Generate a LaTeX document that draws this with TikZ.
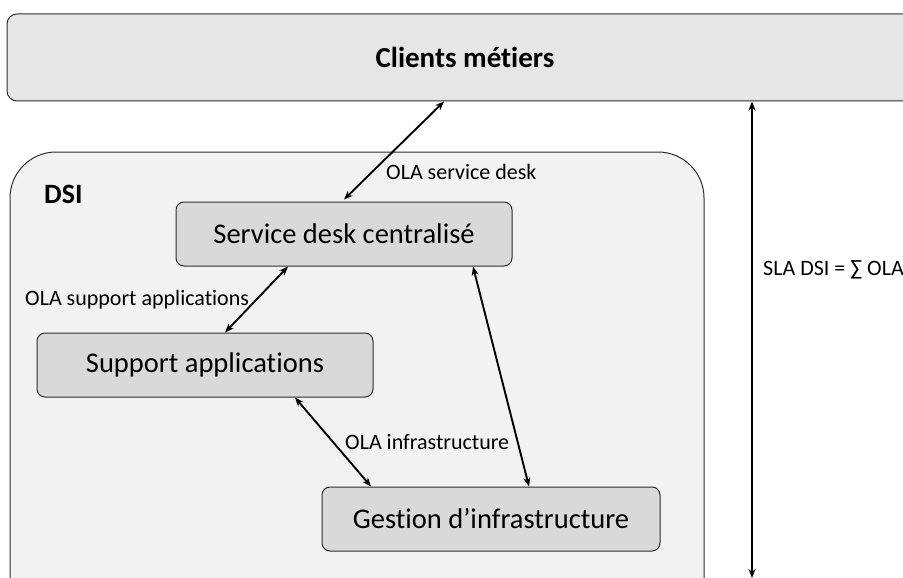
\documentclass[tikz,border=0pt]{standalone}
\usepackage{fontspec}
\setmainfont{Carlito}[Ligatures=NoCommon]
\usetikzlibrary{arrows.meta}
\definecolor{clientgray}{RGB}{230,230,230}
\definecolor{dsigray}{RGB}{242,242,242}
\definecolor{boxgray}{RGB}{217,217,217}
\definecolor{edgegray}{RGB}{45,45,45}

\begin{document}
\begin{tikzpicture}[x=1pt,y=-1pt,
  unit/.style={draw=edgegray,fill=boxgray,rounded corners=8pt,line width=1pt,
    minimum width=336pt,minimum height=64pt,font=\fontsize{28.5}{32}\selectfont},
  ola/.style={<->,>={Stealth[length=9pt,width=7pt]},line width=1.9pt},
  olatext/.style={anchor=west,inner sep=0pt,font=\fontsize{22}{26}\selectfont}]
\useasboundingbox (0,0) rectangle (903,578);
\clip (0,0) rectangle (903,578);
\node[draw=edgegray,fill=clientgray,rounded corners=10pt,line width=1pt,
  minimum width=916pt,minimum height=87pt,font=\fontsize{29}{33}\selectfont\bfseries]
  (cm) at (465,57.5) {Clients métiers};
\draw[draw=edgegray,fill=dsigray,line width=1pt,rounded corners=46pt]
  (10,152) rectangle (704,640);
\node[anchor=west,inner sep=0pt,font=\fontsize{28}{32}\selectfont\bfseries] (dsi) at (44,194) {DSI};
\node[unit] (sd) at (344,234) {Service desk centralisé};
\node[unit] (sa) at (205,365) {Support applications};
\node[unit,minimum width=338pt] (gi) at (491,519) {Gestion d’infrastructure};
\coordinate (slabot) at (752,578);
\draw[ola] ([xshift=-21pt]cm.south) -- ([yshift=2pt]sd.north);
\draw[ola] ([xshift=-56pt]sd.south) -- ([xshift=20pt]sa.north);
\draw[ola] ([xshift=90pt]sa.south) -- ([xshift=-120pt]gi.north);
\draw[ola] ([xshift=129pt]sd.south) -- ([xshift=38pt]gi.north);
\draw[ola] (cm.south -| slabot) -- (slabot);
\node[olatext] (olasd) at (386,172) {OLA service desk};
\node[olatext] (olasa) at (25,300) {OLA support applications};
\node[olatext] (olagi) at (345,442) {OLA infrastructure};
\node[olatext] (sla) at (763,270) {SLA DSI = ∑ OLA};
\end{tikzpicture}
\end{document}
